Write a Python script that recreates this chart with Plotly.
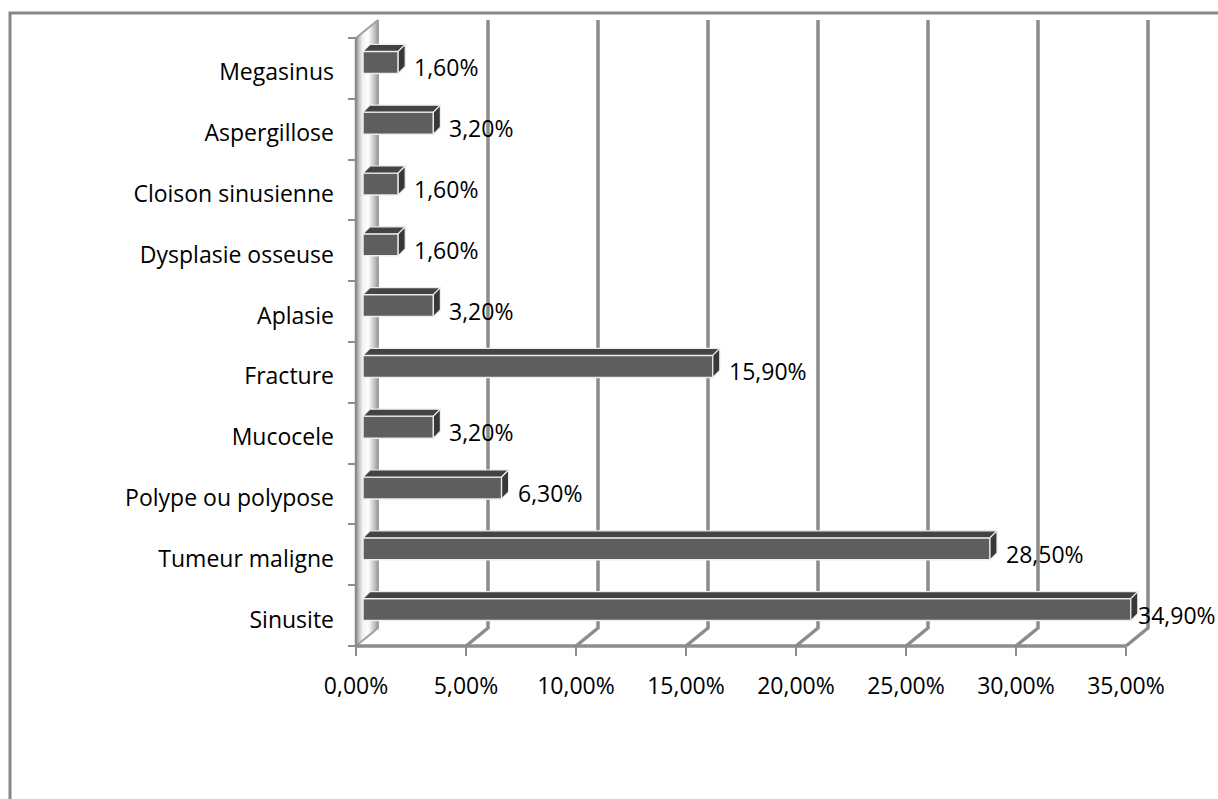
import plotly.graph_objects as go

# ---- data -------------------------------------------------------------
categories = ["Sinusite", "Tumeur maligne", "Polype ou polypose", "Mucocele",
              "Fracture", "Aplasie", "Dysplasie osseuse", "Cloison sinusienne",
              "Aspergillose", "Megasinus"]
percentages = [34.9, 28.5, 6.3, 3.2, 15.9, 3.2, 1.6, 1.6, 3.2, 1.6]
x_ticks = [0, 5, 10, 15, 20, 25, 30, 35]

# ---- oblique 3-D frame geometry (pixels) ------------------------------
W, H = 1218, 799
X0 = 356          # 0 % on the front edge of the floor
PX_PCT = 22       # pixels per percentage point
Y0 = 646          # front edge of the floor
PX_CAT = 60.8     # pixels per category row
DEPTH = (22, 18)  # back wall offset (right, up)
BAR_SHIFT = (7, 6)
BAR_H = 22
BAR_D = 7
LABEL_DROP = 4    # category labels sit slightly below the row centre

FONT = "Open Sans"
FS = 23
GRID = "#8c8c8c"


def pct_text(v):
    return f"{v:.2f}".replace(".", ",") + "%"


def xrange_for(x0):
    return [-x0 / PX_PCT, (W - x0) / PX_PCT]


def yrange_for(y0):
    return [(y0 - H) / PX_CAT, y0 / PX_CAT]


n = len(categories)
xmax = x_ticks[-1]
DX = DEPTH[0] / PX_PCT
DY = DEPTH[1] / PX_CAT
centers = [i + 0.5 for i in range(n)]

fig = go.Figure()

# left wall (thin shaded panel)
fig.add_trace(go.Scatter(
    x=[0, 0, DX, DX, 0], y=[0, n, n + DY, DY, 0],
    mode="lines", fill="toself",
    fillgradient=dict(type="horizontal",
                      colorscale=[[0, "#9c9c9c"], [0.3, "#f2f2f2"],
                                  [0.55, "#ffffff"], [0.85, "#c0c0c0"],
                                  [1, "#959595"]]),
    line=dict(color="#a0a0a0", width=2),
    hoverinfo="skip", showlegend=False))

# back-wall gridlines with their floor segments, plus the floor front edge
gx, gy = [0, xmax, None], [0, 0, None]
for v in x_ticks[1:]:
    gx += [v, v + DX, v + DX, None]
    gy += [0, DY, n + DY, None]
fig.add_trace(go.Scatter(x=gx, y=gy, mode="lines",
                         line=dict(color=GRID, width=3.5),
                         hoverinfo="skip", showlegend=False))

# front edge of the wall
fig.add_trace(go.Scatter(x=[0, 0], y=[0, n], mode="lines",
                         line=dict(color=GRID, width=2.5),
                         hoverinfo="skip", showlegend=False))

# ---- bars (own overlaid axes in the bar plane) ------------------------
bh = BAR_H / PX_CAT
bdx = BAR_D / PX_PCT
bdy = BAR_D / PX_CAT

fig.add_trace(go.Bar(
    x=percentages, y=centers, orientation="h", width=bh,
    marker=dict(color="#5e5e5e", line=dict(color="#ededed", width=1.5)),
    xaxis="x2", yaxis="y2", hoverinfo="skip", showlegend=False))

tx, ty, sx, sy = [], [], [], []
for v, c in zip(percentages, centers):
    top = c + bh / 2
    bot = c - bh / 2
    tx += [0, v, v + bdx, bdx, 0, None]
    ty += [top, top, top + bdy, top + bdy, top, None]
    sx += [v, v, v + bdx, v + bdx, v, None]
    sy += [bot, top, top + bdy, bot + bdy, bot, None]

fig.add_trace(go.Scatter(x=tx, y=ty, mode="lines", fill="toself",
                         fillcolor="#434343",
                         line=dict(color="#ededed", width=1.2),
                         xaxis="x2", yaxis="y2",
                         hoverinfo="skip", showlegend=False))
fig.add_trace(go.Scatter(x=sx, y=sy, mode="lines", fill="toself",
                         fillcolor="#383838",
                         line=dict(color="#ededed", width=1.2),
                         xaxis="x2", yaxis="y2",
                         hoverinfo="skip", showlegend=False))

# ---- value labels -----------------------------------------------------
CHAR_W = {",": 0.26, "%": 0.82}


def text_width(s):
    return sum(CHAR_W.get(ch, 0.572) for ch in s) * FS


LABEL_GAP = 14
annotations = []
for v, c in zip(percentages, centers):
    txt = pct_text(v)
    end_px = X0 + BAR_SHIFT[0] + v * PX_PCT
    font = dict(family=FONT, size=FS, color="black")
    if end_px + LABEL_GAP + text_width(txt) + 6 > W:
        annotations.append(dict(x=1, xref="paper", y=c, yref="y2",
                                text=txt, showarrow=False, xanchor="right",
                                yshift=-5, font=font))
    else:
        annotations.append(dict(x=v, xref="x2", y=c, yref="y2", text=txt,
                                showarrow=False, xanchor="left",
                                xshift=LABEL_GAP, yshift=-5, font=font))

fig.update_layout(
    width=W, height=H,
    margin=dict(l=0, r=0, t=0, b=0),
    paper_bgcolor="white", plot_bgcolor="white",
    showlegend=False,
    xaxis=dict(domain=[0, 1], range=xrange_for(X0), anchor="free",
               position=1 - Y0 / H,
               tickmode="array", tickvals=x_ticks,
               ticktext=[pct_text(v) for v in x_ticks],
               ticks="outside", ticklen=9, tickwidth=2,
               tickcolor=GRID, ticklabelstandoff=10,
               showgrid=False, zeroline=False, showline=False,
               tickfont=dict(family=FONT, size=FS, color="black"),
               fixedrange=True),
    yaxis=dict(domain=[0, 1], range=yrange_for(Y0), anchor="free",
               position=X0 / W, side="left",
               tickmode="array",
               tickvals=[c - LABEL_DROP / PX_CAT for c in centers],
               ticktext=categories, ticks="", ticklabelstandoff=22,
               minor=dict(tickmode="array", tickvals=list(range(n + 1)),
                          ticks="outside", ticklen=8, tickwidth=2,
                          tickcolor=GRID, showgrid=False),
               showgrid=False, zeroline=False, showline=False,
               tickfont=dict(family=FONT, size=FS, color="black"),
               fixedrange=True),
    xaxis2=dict(overlaying="x", anchor="y2",
                range=xrange_for(X0 + BAR_SHIFT[0]), visible=False,
                fixedrange=True),
    yaxis2=dict(overlaying="y", anchor="x2",
                range=yrange_for(Y0 - BAR_SHIFT[1]), visible=False,
                fixedrange=True),
    annotations=annotations,
    shapes=[dict(type="rect", xref="paper", yref="paper",
                 x0=10 / W, x1=1.02, y0=-0.02, y1=1 - 13 / H,
                 line=dict(color="#878787", width=3))],
)

fig.write_html("out.html")
